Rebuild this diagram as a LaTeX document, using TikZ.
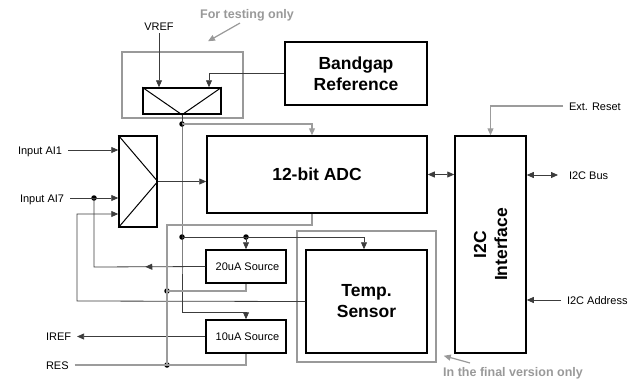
\documentclass[tikz,border=0pt]{standalone}
\usepackage{fontspec}
\setmainfont{Liberation Sans}
\usetikzlibrary{arrows.meta}
\usetikzlibrary{decorations.markings}
\definecolor{wirecol}{HTML}{3C3C3C}
\definecolor{litecol}{HTML}{9C9C9C}
\definecolor{notecol}{HTML}{999999}

\tikzset{
	block/.style={draw,line width=1.5pt,inner sep=0pt,align=center,font=\fontsize{17.5}{21}\selectfont\bfseries},
	srcbox/.style={draw,line width=1.5pt,inner sep=0pt,minimum width=80pt,minimum height=33pt,font=\fontsize{11}{13}\selectfont},
	frame/.style={draw=notecol,line width=1.5pt,inner sep=0pt},
	pinlbl/.style={inner sep=0pt,outer sep=6pt,text height=8pt,text depth=0pt,font=\fontsize{11}{13}\selectfont},
	note/.style={inner sep=0pt,text=notecol,font=\fontsize{12.5}{15}\selectfont\bfseries},
	wire/.style={draw=wirecol,line width=0.8pt},
	lite/.style={draw=litecol,line width=1.2pt},
	tip/.style={-{Triangle[length=7pt,width=6pt]}},
	tips/.style={{Triangle[length=7pt,width=6pt]}-{Triangle[length=7pt,width=6pt]}},
	dot/.style={circle,fill,inner sep=0pt,minimum size=5.5pt},
	midtip/.style={postaction={decorate},decoration={markings,mark=at position #1 with {\arrow{Triangle[length=7pt,width=6pt]}}}},
}

\begin{document}
\begin{tikzpicture}[x=1pt,y=-1pt]
	\useasboundingbox (0,0) rectangle (634,380);
	% frames
	\node[frame,minimum width=121pt,minimum height=66pt] (testbox) at (182.5,85) {};
	\node[frame,minimum width=139pt,minimum height=131pt] (tempbox) at (366.5,296.5) {};
	% blocks
	\node[block,minimum width=78pt,minimum height=26pt] (refmux) at (182,101) {};
	\draw[line width=1pt] (refmux.north west) -- (refmux.south) -- (refmux.north east);
	\node[block,minimum width=38pt,minimum height=91pt] (inmux) at (138,181.5) {};
	\draw[line width=1pt] (inmux.north west) -- (inmux.east) -- (inmux.south west);
	\node[block,minimum width=142pt,minimum height=63pt] (bandgap) at (356,73.5) {Bandgap\\Reference};
	\node[block,minimum width=220pt,minimum height=77pt] (adc) at (317,174.5) {12-bit ADC};
	\node[block,minimum width=71pt,minimum height=217pt] (i2c) at (490.5,244.5) {};
	\node[block,draw=none,rotate=90] (i2ctxt) at (i2c.center) {I2C\\Interface};
	\node[block,minimum width=121pt,minimum height=103pt] (temp) at (366.5,301.5) {Temp.\\Sensor};
	\node[srcbox] (src20) at (246,266.5) {\hspace*{3pt}20uA Source};
	\node[srcbox] (src10) at (246,336.5) {\hspace*{3pt}10uA Source};
	% pins
	\node[pinlbl,outer sep=3pt] (vref) at (159,26) {VREF};
	\node[pinlbl,anchor=west] (ai1) at (12,150) {Input AI1};
	\node[pinlbl,anchor=west] (ai7) at (14,198) {Input AI7};
	\node[pinlbl,anchor=west] (iref) at (40,336) {IREF};
	\node[pinlbl,anchor=west] (res) at (40,365) {RES};
	\node[pinlbl,anchor=west] (ext) at (563,106) {Ext. Reset};
	\node[pinlbl,anchor=west] (i2cbus) at (563,175) {I2C Bus};
	\node[pinlbl,anchor=west] (addr) at (561,300) {I2C Address};
	\node[note] (fto) at (247,15) {For testing only};
	\node[note,anchor=west] (fin) at (443,373) {In the final version only};
	% junctions
	\node[dot] (d1) at (182,124) {};
	\node[dot] (d2) at (182,237) {};
	\node[dot] (d3) at (246,237) {};
	\node[dot] (d4) at (94,198) {};
	\node[dot] (d5) at (167,291) {};
	\node[dot] (d6) at (167,365) {};
	\coordinate (j10) at (182,312);
	\coordinate (j20) at (94,267);
	\coordinate (jadc) at (167,225);
	\coordinate (jtmp) at (77,301);

	% reference path
	\draw[wire,tip] (vref.south) -- (vref.south |- refmux.north);
	\draw[wire,tip] (bandgap.west) -| ([xshift=27pt]refmux.north);
	\draw[wire] (refmux.south) -- (d1.center);
	\draw[lite,tip] (d1.center) -| ([xshift=-5pt]adc.north);
	\draw[wire] (d1.center) -- (d2.center) -- (j10);
	\draw[wire,tip] (j10) -| (src10.north);
	\draw[wire,tip] (d2.center) -| ([xshift=-2.5pt]temp.north);
	\draw[wire,tip] (d3.center) -- (src20.north);
	% inputs
	\draw[wire,tip] (ai1.east) -- (inmux.west |- ai1.east);
	\draw[wire,tip] (ai7.east) -- (inmux.west |- ai7.east);
	\draw[wire,tip] (temp.west) -- (jtmp) |- ([yshift=-32.5pt]inmux.west);
	\draw[wire,tip] (inmux.east) -- (adc.west |- inmux.east);
	\draw[wire,midtip=60pt] (src20.west) -- (j20) -- (d4.center);
	\draw[wire,tip] (src10.west) -- (iref.east |- src10.west);
	% RES bus
	\draw[lite] (res.east) -| (src10.south);
	\draw[lite] (src20.south) |- (d5.center);
	\draw[lite] (d6.center) -- (jadc) -| ([xshift=-5pt]adc.south);
	% I2C side
	\draw[wire,tips] (adc.east) -- (i2c.west |- adc.east);
	\draw[wire,tips] (i2c.east |- i2cbus.west) -- ([xshift=-5pt]i2cbus.west);
	\draw[lite,tip] (ext.west) -| (i2c.north);
	\draw[wire,tip] (addr.west) -- (i2c.east |- addr.west);
	% notes
	\draw[lite,draw=notecol,tip] ([xshift=-7pt,yshift=-2pt]fto.south) -- ([xshift=25.5pt,yshift=10pt]testbox.north);
	\draw[lite,draw=notecol,tip] ([xshift=27pt,yshift=4pt]fin.north west) -- ([xshift=7pt,yshift=7pt]tempbox.south east);
\end{tikzpicture}
\end{document}
